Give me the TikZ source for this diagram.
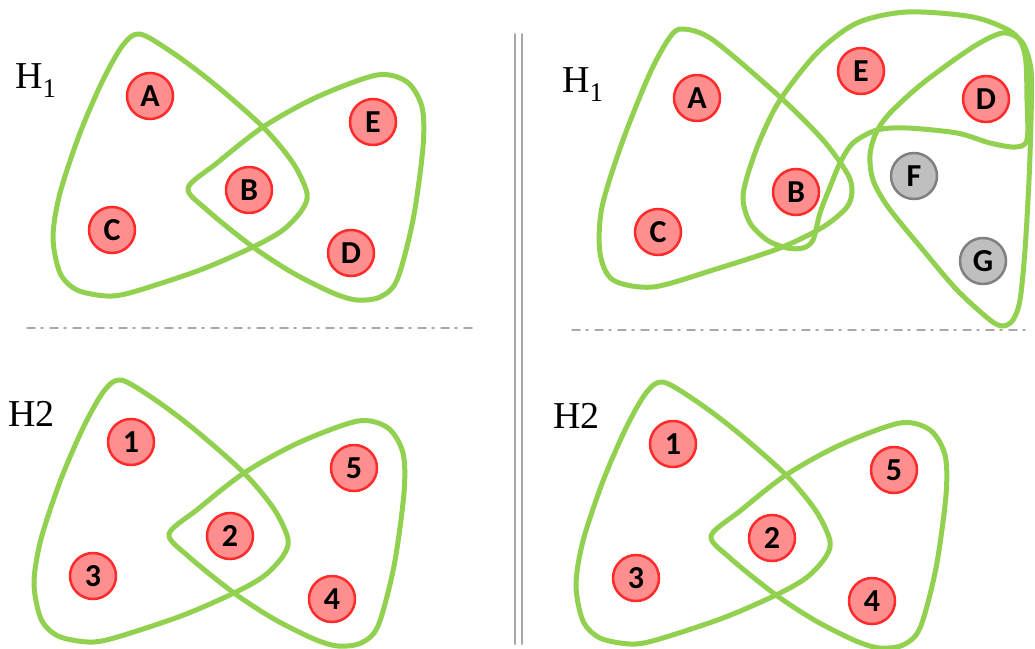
\documentclass[tikz,border=0pt]{standalone}
\usepackage{fontspec}
\setmainfont{Liberation Serif}
\newfontfamily\lblfont{Carlito}
\definecolor{edgegreen}{HTML}{92D050}
\definecolor{vfill}{HTML}{FF8F8F}
\definecolor{vline}{HTML}{FF2A2A}
\definecolor{gfill}{HTML}{BFBFBF}
\definecolor{gline}{HTML}{808080}
\definecolor{sepgray}{HTML}{A8A8A8}

\begin{document}
\begin{tikzpicture}[x=1pt,y=-1pt,line cap=round,line join=round,
  hedge/.style={draw=edgegreen,line width=5pt},
  vtx/.style={circle,draw=vline,fill=vfill,line width=2.5pt,minimum size=46pt,inner sep=0pt,font=\lblfont\bfseries\fontsize{32}{32}\selectfont},
  gvtx/.style={vtx,draw=gline,fill=gfill},
  title/.style={anchor=base west,inner sep=0pt,font=\fontsize{38}{40}\selectfont},
  sep/.style={draw=sepgray,line width=1.5pt,dash pattern=on 8pt off 6pt on 2pt off 7pt}]
\useasboundingbox[fill=white] (0,0) rectangle (1035,648);
% separators
\draw[sep] (27,328) -- (477,328);
\draw[sep] (572,330) -- (1030,330);
\draw[draw=sepgray,line width=2pt] (515,34) -- (515,644);
\draw[draw=sepgray,line width=2pt] (522,34) -- (522,644);
% left top and both bottom panels share one layout
\foreach \dx/\dy in {0/0,-19/346,523/348}{
  \begin{scope}[shift={(\dx,\dy)}]
    \draw[hedge] plot[smooth cycle] coordinates {(140,34) (173,53) (213,83) (263,127) (293,163) (307,193) (302,210) (283,230) (253,247) (200,270) (133,292) (107,296) (77,290) (60,273) (53,237) (60,193) (80,133) (103,80) (123,45)};
    \draw[hedge] plot[smooth cycle] coordinates {(188,188) (217,163) (263,127) (317,97) (377,75) (407,82) (422,107) (423,147) (413,220) (397,280) (380,297) (357,300) (333,293) (293,273) (253,247) (207,210)};
  \end{scope}
}
% right top panel
\draw[hedge] plot[smooth cycle] coordinates {(683,29) (713,40) (780,97) (823,140) (847,173) (852,190) (847,207) (823,227) (780,248) (713,270) (653,287) (613,280) (600,253) (602,207) (623,140) (650,73) (670,37)};
\draw[hedge] plot[smooth cycle] coordinates {(767,240) (750,223) (743,200) (747,177) (760,140) (780,100) (817,53) (857,23) (907,12) (973,17) (1013,33) (1025,55) (1027,100) (1027,140) (1015,147) (990,143) (957,133) (907,128) (877,130) (853,143) (840,163) (830,187) (820,213) (813,240) (803,248) (787,248)};
\draw[hedge] plot[smooth cycle] coordinates {(1003,33) (973,47) (923,83) (890,113) (876,133) (870,155) (873,180) (888,207) (923,250) (957,290) (990,320) (1003,326) (1013,320) (1020,300) (1025,250) (1029,180) (1031,120) (1031,70) (1022,42)};
% titles
\node[title] (tlH) at (15,88) {H\raisebox{-9pt}{\fontsize{27}{27}\selectfont 1}};
\node[title] (trH) at (562,92) {H\raisebox{-9pt}{\fontsize{27}{27}\selectfont 1}};
\node[title] (blH) at (8,426) {H2};
\node[title] (brH) at (553,428) {H2};
% vertices, left top
\node[vtx] (tlA) at (150,96) {A};
\node[vtx] (tlE) at (373,122) {E};
\node[vtx] (tlB) at (249,190) {B};
\node[vtx] (tlC) at (112,230) {C};
\node[vtx] (tlD) at (351,253) {D};
% vertices, right top
\node[vtx] (trA) at (697,98) {A};
\node[vtx] (trE) at (861,71) {E};
\node[vtx] (trD) at (986,99) {D};
\node[vtx] (trB) at (796,192) {B};
\node[vtx] (trC) at (658,232) {C};
\node[gvtx] (trF) at (914,176) {F};
\node[gvtx] (trG) at (983,261) {G};
% vertices, left bottom
\node[vtx] (bl1) at (131,442) {1};
\node[vtx] (bl5) at (354,468) {5};
\node[vtx] (bl2) at (230,536) {2};
\node[vtx] (bl3) at (93,576) {3};
\node[vtx] (bl4) at (332,599) {4};
% vertices, right bottom
\node[vtx] (br1) at (673,444) {1};
\node[vtx] (br5) at (894,470) {5};
\node[vtx] (br2) at (772,538) {2};
\node[vtx] (br3) at (636,578) {3};
\node[vtx] (br4) at (872,601) {4};
\end{tikzpicture}
\end{document}
